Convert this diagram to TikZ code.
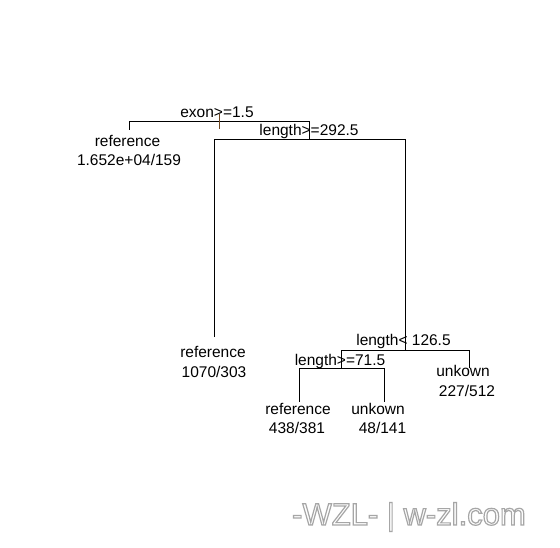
\documentclass[tikz,border=0pt]{standalone}
\usepackage{fontspec}
\setmainfont{Liberation Sans}
\definecolor{tickcol}{RGB}{110,70,30}
\begin{document}
\begin{tikzpicture}[x=1pt,y=-1pt,
  lbl/.style={inner sep=0pt,anchor=base,font=\fontsize{15.5}{17}\selectfont},
  edge/.style={line width=0.9pt,black},
  wm/.style={inner sep=0pt,anchor=base,font=\fontsize{31}{34}\selectfont,text=black!35}]
\useasboundingbox[fill=white] (0,0) rectangle (560,548);
% split coordinates
\coordinate (rootT) at (219,114);
\coordinate (rootB) at (219,129);
\coordinate (r1L) at (129,121);
\coordinate (r1R) at (309,121);
\coordinate (l1) at (129,130);
\coordinate (s2) at (309,139);
\coordinate (s2L) at (214,139);
\coordinate (s2R) at (405,139);
\coordinate (l2) at (214,337);
\coordinate (s3) at (405,350);
\coordinate (s3L) at (341,350);
\coordinate (s3R) at (469,350);
\coordinate (l5) at (469,368);
\coordinate (s4) at (341,368);
\coordinate (s4L) at (299,368);
\coordinate (s4R) at (384,368);
\coordinate (l3) at (299,402);
\coordinate (l4) at (384,402);
% edges
\draw[edge] (l1) -- (r1L) -- (r1R) -- (s2);
\draw[edge] (l2) -- (s2L) -- (s2R) -- (s3);
\draw[edge] (l5) -- (s3R) -- (s3L) -- (s4);
\draw[edge] (l3) -- (s4L) -- (s4R) -- (l4);
\draw[line width=1pt,tickcol] (rootT) -- (rootB);
% split labels
\node[lbl] (t1) at (217,118) {exon>=1.5};
\node[lbl] (t2) at (309,135.5) {length>=292.5};
\node[lbl] (t3) at (403.5,345.5) {length< 126.5};
\node[lbl] (t4) at (340,365) {length>=71.5};
% leaves
\node[lbl] (a1) at (127.5,146.5) {reference};
\node[lbl] (a2) at (129,166) {1.652e+04/159};
\node[lbl] (b1) at (213,357.5) {reference};
\node[lbl] (b2) at (214,377.5) {1070/303};
\node[lbl] (c1) at (298,414.5) {reference};
\node[lbl] (c2) at (297,433.5) {438/381};
\node[lbl] (d1) at (378,414.5) {unkown};
\node[lbl] (d2) at (382.5,433.5) {48/141};
\node[lbl] (e1) at (463,376.5) {unkown};
\node[lbl] (e2) at (467,396) {227/512};
% watermark
\node[wm] (w) at (409,525) {\special{pdf:literal direct 1 Tr 1.2 w}-WZL- | w-zl.com\special{pdf:literal direct 0 Tr}};
\end{tikzpicture}
\end{document}
